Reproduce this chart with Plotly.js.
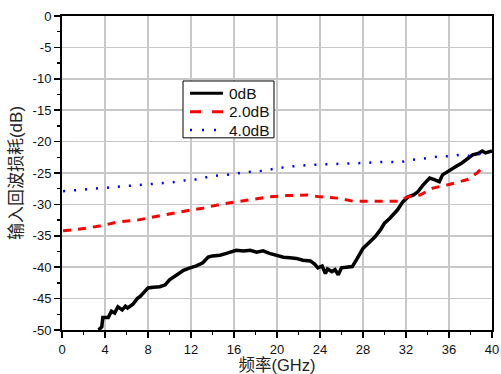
<!DOCTYPE html>
<html><head><meta charset="utf-8">
<script src="https://cdn.plot.ly/plotly-3.0.1.min.js"></script>
<style>body{margin:0;padding:0;background:#fff}#c{width:501px;height:374px}</style>
</head><body><div id="c"></div>
<script>
const x0 = [3.4,3.7,3.8,4.3,4.6,4.9,5.2,5.6,5.9,6.1,6.6,7.0,7.3,7.7,8.0,8.5,9.1,9.6,10.0,10.7,11.3,11.9,12.5,13.1,13.6,14.0,14.7,15.3,15.9,16.2,16.9,17.5,18.1,18.7,19.3,20.0,20.6,21.2,21.8,22.4,23.1,23.5,23.8,24.2,24.5,24.7,25.1,25.4,25.7,26.0,26.5,27.0,27.4,28.0,28.5,29.1,29.6,30.0,30.5,31.2,31.7,32.2,32.7,33.1,33.6,34.0,34.2,34.7,35.1,35.4,35.9,36.6,37.2,37.8,38.2,38.7,39.1,39.4,39.7,40.0];
const y0 = [-50,-49.5,-48,-48,-47,-47.3,-46.3,-46.8,-46.2,-46.5,-45.9,-45,-44.6,-43.9,-43.3,-43.2,-43.1,-42.8,-42,-41.2,-40.5,-40.1,-39.8,-39.3,-38.4,-38.2,-38.1,-37.8,-37.4,-37.3,-37.4,-37.3,-37.6,-37.4,-37.8,-38.2,-38.4,-38.5,-38.6,-38.9,-39,-39.5,-40.1,-39.8,-41,-40.3,-40.7,-40.4,-41.2,-40.1,-40,-39.9,-38.8,-37,-36.2,-35.2,-34.1,-33,-32.2,-30.9,-29.6,-28.8,-28.5,-28,-26.9,-26.1,-25.8,-26.1,-26.4,-25.3,-24.7,-24,-23.4,-22.7,-22.1,-21.9,-21.5,-21.8,-21.6,-21.5];
const x2 = [0.1,2.3,4.2,5.2,7.0,8.5,10.0,11.6,13.1,14.7,16.2,17.5,19.3,20.9,22.8,24.0,25.6,27.1,28.7,30.2,31.4,32.1,33.3,34.5,36.1,37.8,38.6,39.1,39.3];
const y2 = [-34.2,-33.8,-33.2,-32.8,-32.5,-32,-31.6,-31,-30.6,-30,-29.6,-29.3,-28.8,-28.6,-28.5,-28.8,-29,-29.5,-29.5,-29.5,-29.5,-28.8,-28.5,-27.4,-26.8,-26,-25,-24.2,-24.6];
const x4 = [0.1,2.4,3.5,4.8,7.0,8.0,9.4,10.7,11.7,12.8,13.8,15.3,16.4,17.5,18.4,20.0,21.0,23.1,25.6,28.2,30.3,31.4,32.6,34.0,35.0,36.1,37.0,38.0,38.9,39.6];
const y4 = [-27.9,-27.6,-27.4,-27.2,-27,-26.8,-26.6,-26.4,-26.1,-26,-25.5,-25.3,-25,-24.8,-24.7,-24.3,-24,-23.7,-23.6,-23.4,-23.2,-23.3,-22.9,-22.6,-22.4,-22.3,-22.1,-22.3,-21.9,-21.7];
const names = ['0dB','2.0dB','4.0dB'];
const xTicks = [0,4,8,12,16,20,24,28,32,36,40];
const yTicks = [0,-5,-10,-15,-20,-25,-30,-35,-40,-45,-50];

const styles = [
  {color:'#000',width:3.5,dash:'solid'},
  {color:'#ff0000',width:3,dash:'8px,7px'},
  {color:'#0000ff',width:2.5,dash:'2px,9px'}
];
const legStyles = [
  {color:'#000',width:3,dash:'solid'},
  {color:'#ff0000',width:3,dash:'11px,11px'},
  {color:'#0000ff',width:2.5,dash:'2px,10px'}
];
const xs = [x0,x2,x4], ys = [y0,y2,y4];
const traces = names.map((n,i)=>({x:xs[i],y:ys[i],name:n,mode:'lines',line:styles[i]}));

// custom legend (paper coordinates)
const legRows = [0.7538,0.6952,0.6369];
const shapes = [{type:'rect',xref:'paper',yref:'paper',x0:0.2814,x1:0.4930,y0:0.6120,y1:0.7930,
  line:{color:'#000',width:1},fillcolor:'#fff',layer:'above'}];
const annotations = [];
names.forEach((n,i)=>{
  shapes.push({type:'line',xref:'paper',yref:'paper',x0:0.2977,x1:0.3744,y0:legRows[i],y1:legRows[i],line:legStyles[i],layer:'above'});
  annotations.push({xref:'paper',yref:'paper',x:0.384,y:legRows[i],xanchor:'left',yanchor:'middle',showarrow:false,
    text:n,font:{family:'Liberation Sans, Arial, sans-serif',size:15.5,color:'#111'}});
});

const titleFont = {family:'Liberation Sans, Noto Sans CJK SC, sans-serif',size:17,color:'#222'};
const layout = {
  width:501,height:374,
  margin:{l:62,r:9,t:16,b:44},
  paper_bgcolor:'#fff',plot_bgcolor:'#fff',
  font:{family:'Liberation Sans, Arial, sans-serif',color:'#222',size:13},
  showlegend:false,
  shapes:shapes,annotations:annotations,
  xaxis:{range:[0,40],tickvals:xTicks,ticktext:xTicks.map(String),showgrid:true,gridcolor:'#c8c8c8',gridwidth:1.5,
    zeroline:false,showline:true,linecolor:'#000',linewidth:2,mirror:true,ticks:'outside',ticklen:6,tickwidth:1.5,tickcolor:'#000',
    minor:{dtick:2,ticks:'outside',ticklen:3,tickwidth:1.5,tickcolor:'#000',showgrid:false},
    tickfont:{size:13,color:'#111'},
    title:{text:'频率(GHz)',font:{family:titleFont.family,size:16.5,color:'#222'},standoff:8}},
  yaxis:{range:[-50,0],tickvals:yTicks,ticktext:yTicks.map(String),showgrid:true,gridcolor:'#c8c8c8',gridwidth:1.5,
    zeroline:false,showline:true,linecolor:'#000',linewidth:2,mirror:true,ticks:'outside',ticklen:6,tickwidth:1.5,tickcolor:'#000',
    minor:{dtick:2.5,ticks:'outside',ticklen:3,tickwidth:1.5,tickcolor:'#000',showgrid:false},
    tickfont:{size:13,color:'#111'},
    title:{text:'输入回波损耗(dB)',font:titleFont,standoff:6}}
};
Plotly.newPlot('c',traces,layout,{staticPlot:true,displayModeBar:false});
</script></body></html>
